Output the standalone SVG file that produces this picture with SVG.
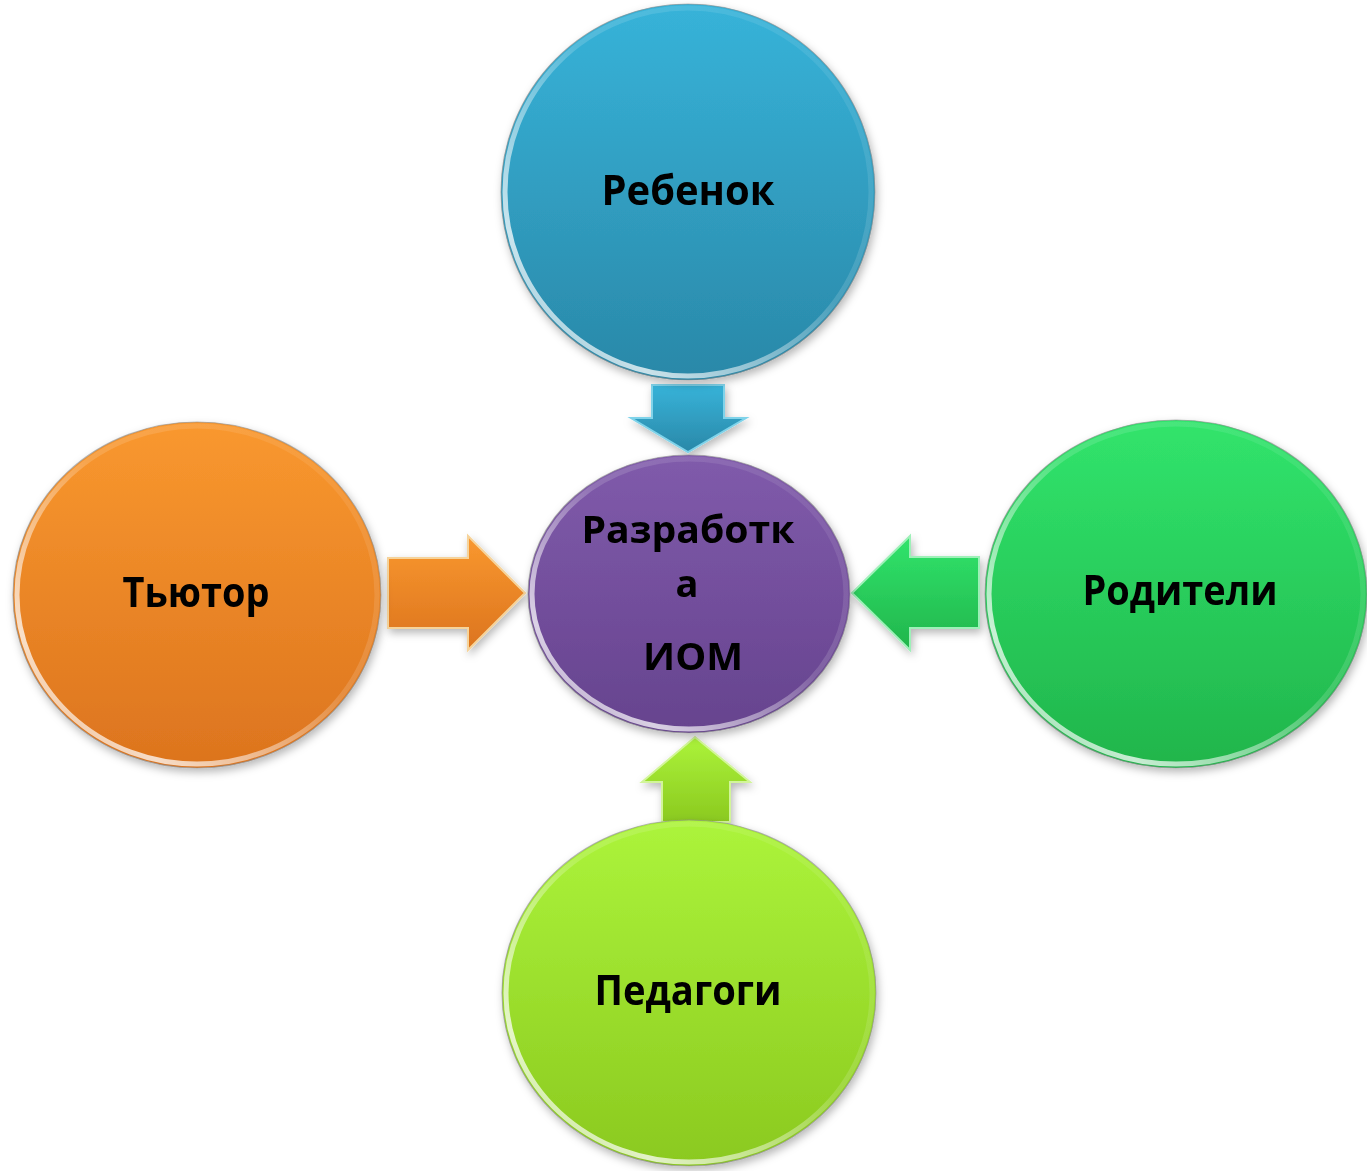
<svg xmlns="http://www.w3.org/2000/svg" width="1367" height="1171" viewBox="0 0 1367 1171">
  <style>
    .lbl { font-family: "Open Sans", "Liberation Sans", sans-serif; font-weight: 700; fill: #000; text-anchor: middle; }
    .big { font-size: 42px; }
    .mid { font-size: 38px; }
    .rim { fill: none; stroke: #8a8a8a; stroke-width: 1.2; stroke-opacity: 0.6; }
    .hl { fill: none; stroke: url(#hlGrad); stroke-width: 5; }
    .arr { stroke-width: 2; stroke-linejoin: miter; }
  </style>
  <defs>
    <filter id="shadow" x="-10%" y="-10%" width="125%" height="125%">
      <feGaussianBlur in="SourceAlpha" stdDeviation="4"/>
      <feOffset dx="2" dy="4" result="b"/>
      <feFlood flood-color="#000" flood-opacity="0.28"/>
      <feComposite in2="b" operator="in"/>
      <feMerge><feMergeNode/><feMergeNode in="SourceGraphic"/></feMerge>
    </filter>
    <linearGradient id="hlGrad" x1="1" y1="0" x2="0" y2="1">
      <stop offset="0" stop-color="#fff" stop-opacity="0.05"/>
      <stop offset="0.45" stop-color="#fff" stop-opacity="0.15"/>
      <stop offset="0.8" stop-color="#fff" stop-opacity="0.75"/>
      <stop offset="1" stop-color="#fff" stop-opacity="0.4"/>
    </linearGradient>
    <linearGradient id="gBlue" x1="0" y1="0" x2="0" y2="1">
      <stop offset="0" stop-color="#37b3d9"/><stop offset="1" stop-color="#2a88a8"/>
    </linearGradient>
    <linearGradient id="gOrange" x1="0" y1="0" x2="0" y2="1">
      <stop offset="0" stop-color="#f9982f"/><stop offset="1" stop-color="#dc741e"/>
    </linearGradient>
    <linearGradient id="gGreen" x1="0" y1="0" x2="0" y2="1">
      <stop offset="0" stop-color="#31e46c"/><stop offset="1" stop-color="#21b54b"/>
    </linearGradient>
    <linearGradient id="gLime" x1="0" y1="0" x2="0" y2="1">
      <stop offset="0" stop-color="#acf43b"/><stop offset="1" stop-color="#8bc91f"/>
    </linearGradient>
    <linearGradient id="gPurple" x1="0" y1="0" x2="0" y2="1">
      <stop offset="0" stop-color="#805bab"/><stop offset="1" stop-color="#66438e"/>
    </linearGradient>
  </defs>

  <g id="connectors" filter="url(#shadow)">
    <polygon id="arrow-top" class="arr" fill="url(#gBlue)" stroke="#7fd3ea" points="652,385 724,385 724,418 746,418 688,452 631,418 652,418"/>
    <polygon id="arrow-left" class="arr" fill="url(#gOrange)" stroke="#f6d39a" points="388,558 468,558 468,536 525,593 468,650 468,628 388,628"/>
    <polygon id="arrow-right" class="arr" fill="url(#gGreen)" stroke="#9ef0b8" points="979,557 910,557 910,536 852,593 910,650 910,628 979,628"/>
    <polygon id="arrow-bottom" class="arr" fill="url(#gLime)" stroke="#d2f59a" points="695,737 750,782 730,782 730,822 662,822 662,782 642,782"/>
  </g>

  <g id="node-rebenok" filter="url(#shadow)">
    <ellipse cx="688" cy="192" rx="187" ry="188" fill="url(#gBlue)"/>
    <ellipse class="hl" cx="688" cy="192" rx="183" ry="184"/>
    <ellipse class="rim" cx="688" cy="192" rx="187" ry="188"/>
    <text class="lbl big" x="688" y="205" textLength="173" lengthAdjust="spacingAndGlyphs">Ребенок</text>
  </g>

  <g id="node-tyutor" filter="url(#shadow)">
    <ellipse cx="197" cy="595" rx="184" ry="173" fill="url(#gOrange)"/>
    <ellipse class="hl" cx="197" cy="595" rx="180" ry="169"/>
    <ellipse class="rim" cx="197" cy="595" rx="184" ry="173"/>
    <text class="lbl big" x="196" y="607" textLength="147" lengthAdjust="spacingAndGlyphs">Тьютор</text>
  </g>

  <g id="node-roditeli" filter="url(#shadow)">
    <ellipse cx="1176" cy="594" rx="191" ry="174" fill="url(#gGreen)"/>
    <ellipse class="hl" cx="1176" cy="594" rx="187" ry="170"/>
    <ellipse class="rim" cx="1176" cy="594" rx="191" ry="174"/>
    <text class="lbl big" x="1180" y="605" textLength="195" lengthAdjust="spacingAndGlyphs">Родители</text>
  </g>

  <g id="node-pedagogi" filter="url(#shadow)">
    <ellipse cx="689" cy="993" rx="187" ry="173" fill="url(#gLime)"/>
    <ellipse class="hl" cx="689" cy="993" rx="183" ry="169"/>
    <ellipse class="rim" cx="689" cy="993" rx="187" ry="173"/>
    <text class="lbl big" x="688" y="1005" textLength="187" lengthAdjust="spacingAndGlyphs">Педагоги</text>
  </g>

  <g id="node-center" filter="url(#shadow)">
    <ellipse cx="689" cy="594" rx="161" ry="139" fill="url(#gPurple)"/>
    <ellipse class="hl" cx="689" cy="594" rx="157" ry="135"/>
    <ellipse class="rim" cx="689" cy="594" rx="161" ry="139"/>
    <text class="lbl mid" x="688" y="543" textLength="213" lengthAdjust="spacingAndGlyphs">Разработк</text>
    <text class="lbl mid" x="687" y="597">а</text>
    <text class="lbl mid" x="693" y="670" textLength="100" lengthAdjust="spacingAndGlyphs">ИОМ</text>
  </g>
</svg>
